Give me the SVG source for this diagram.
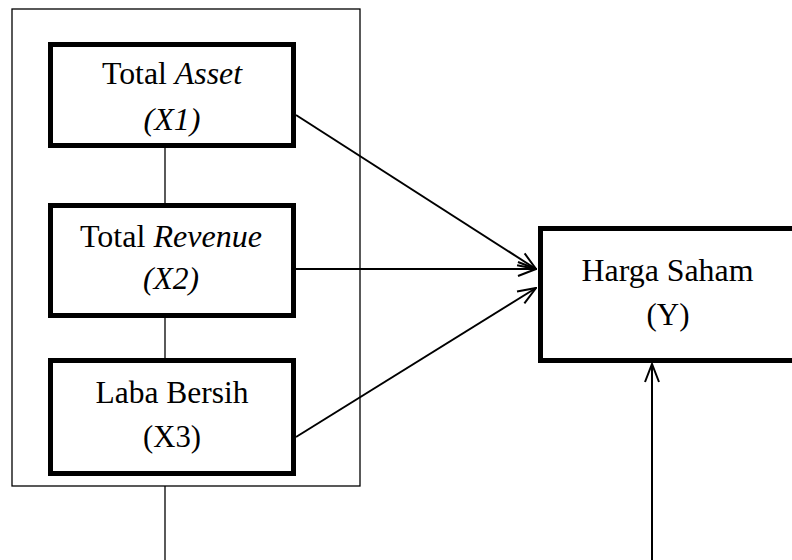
<svg xmlns="http://www.w3.org/2000/svg" width="792" height="560" viewBox="0 0 792 560">
<defs>
<style>
.box{fill:#fff;stroke:#000;stroke-width:5}
.t{font-family:"Liberation Serif","Times New Roman",serif;font-size:31px;fill:#000;text-anchor:middle}
.i{font-style:italic}
.thin{stroke:#000;stroke-width:1.3;fill:none}
.ar{stroke:#000;stroke-width:2;fill:none}
</style>
<marker id="ah" viewBox="0 0 20 20" refX="19" refY="10" markerWidth="20" markerHeight="20" markerUnits="userSpaceOnUse" orient="auto">
<path d="M1,3 L19,10 L1,17" fill="none" stroke="#000" stroke-width="2"/>
</marker>
</defs>
<rect width="792" height="560" fill="#fff"/>
<g id="group-box"><rect x="12" y="9" width="348" height="477" class="thin"/></g>
<g id="connectors">
<line x1="165" y1="148" x2="165" y2="203" class="thin"/>
<line x1="165" y1="318" x2="165" y2="358" class="thin"/>
<line x1="165" y1="486" x2="165" y2="560" class="thin"/>
<line x1="296" y1="115" x2="536" y2="269" class="ar" marker-end="url(#ah)"/>
<line x1="296" y1="269" x2="536" y2="269" class="ar" marker-end="url(#ah)"/>
<line x1="296" y1="437" x2="536" y2="288" class="ar" marker-end="url(#ah)"/>
<line x1="652" y1="560" x2="652" y2="364" class="ar" marker-end="url(#ah)"/>
</g>
<g id="x1"><rect x="50.5" y="44.5" width="243" height="101" class="box"/>
<text x="172" y="84" class="t" textLength="140" lengthAdjust="spacingAndGlyphs">Total <tspan class="i">Asset</tspan></text>
<text x="172" y="130" class="t i" textLength="57" lengthAdjust="spacingAndGlyphs">(X1)</text></g>
<g id="x2"><rect x="50.5" y="205.5" width="243" height="110" class="box"/>
<text x="171" y="247" class="t" textLength="182" lengthAdjust="spacingAndGlyphs">Total <tspan class="i">Revenue</tspan></text>
<text x="171" y="289" class="t i" textLength="56" lengthAdjust="spacingAndGlyphs">(X2)</text></g>
<g id="x3"><rect x="50.5" y="360.5" width="243" height="113" class="box"/>
<text x="172" y="403" class="t" textLength="153" lengthAdjust="spacingAndGlyphs">Laba Bersih</text>
<text x="172" y="447" class="t" textLength="58" lengthAdjust="spacingAndGlyphs">(X3)</text></g>
<g id="y"><rect x="540.5" y="228.5" width="254" height="132" class="box"/>
<text x="667.5" y="281" class="t" textLength="172" lengthAdjust="spacingAndGlyphs">Harga Saham</text>
<text x="668" y="325" class="t" textLength="43" lengthAdjust="spacingAndGlyphs">(Y)</text></g>
</svg>
